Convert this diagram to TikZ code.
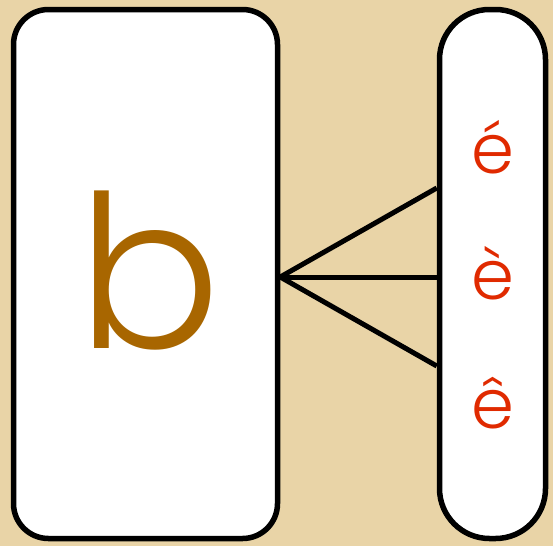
\documentclass[tikz,border=0pt]{standalone}
\usepackage{fontspec}
\setmainfont{Poppins}[UprightFont=* Light]
\usetikzlibrary{shadows}
\definecolor{parch}{HTML}{E9D4A7}
\definecolor{bbrown}{HTML}{A86600}
\definecolor{ered}{HTML}{E02A00}
\tikzset{every picture/.style={x=1pt, y=-1pt},
	card/.style={draw, line width=5.5pt, fill=white, inner sep=0pt,
		drop shadow={shadow xshift=2pt, shadow yshift=-2pt, opacity=0.45}},
	letter/.style={anchor=base, inner sep=0pt, font=\fontsize{69}{69}\selectfont, text=ered},
	link/.style={line width=5pt}}
\begin{document}
\begin{tikzpicture}
	\useasboundingbox[fill=parch] (0,0) rectangle (553,546);
	\node[card, rounded corners=35pt, minimum width=264pt, minimum height=529pt] (bbox) at (145.5,274) {};
	\node[card, rounded corners=50pt, minimum width=106pt, minimum height=529pt] (ebox) at (492.5,274) {};
	\node[anchor=base, inner sep=0pt, font=\fontsize{213}{213}\selectfont, text=bbrown] (b) at (149,348) {b};
	\node[letter] (eacute) at (493,173) {é};
	\node[letter] (egrave) at (493,299) {è};
	\node[letter] (ecirc) at (493,428) {ê};
	% where the links meet the right card
	\coordinate (hub) at (bbox.east |- 0,277);
	\coordinate (up) at (ebox.west |- 0,188);
	\coordinate (mid) at (ebox.west |- 0,277);
	\coordinate (down) at (ebox.west |- 0,366);
	\draw[link] (hub) -- (up);
	\draw[link] (hub) -- (mid);
	\draw[link] (hub) -- (down);
\end{tikzpicture}
\end{document}
